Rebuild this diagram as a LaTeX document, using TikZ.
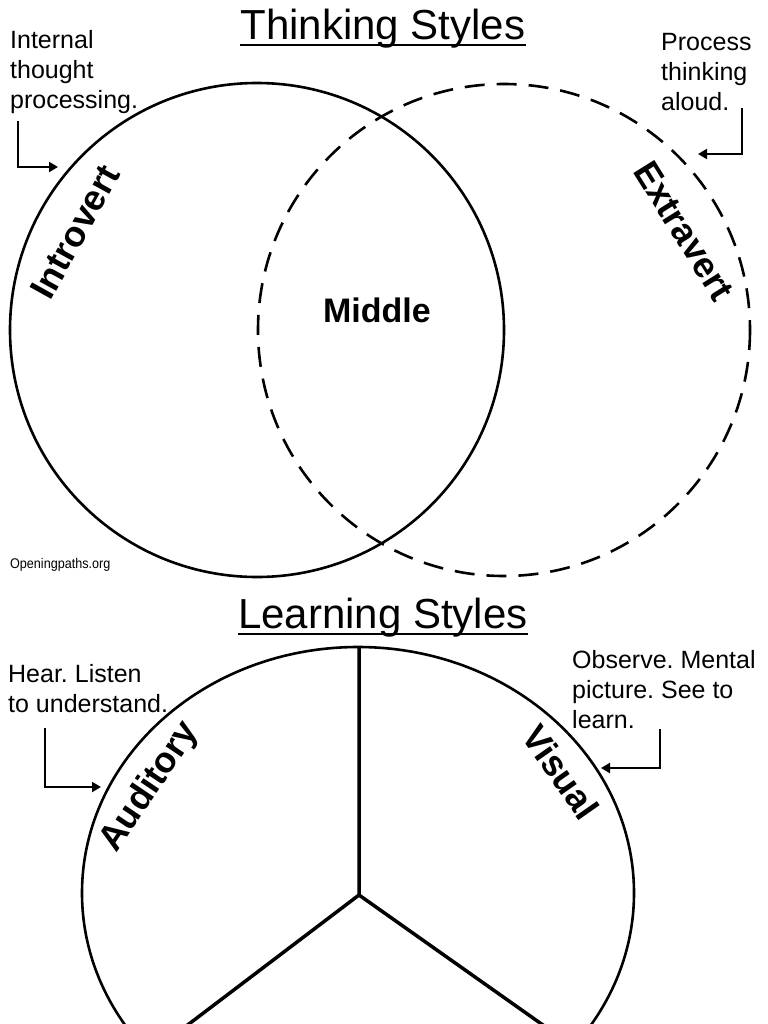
\documentclass[tikz,border=0pt]{standalone}
\usepackage{fontspec}
\setmainfont{Liberation Sans}
\usetikzlibrary{arrows.meta}
\frenchspacing
\begin{document}
\begin{tikzpicture}[x=1bp,y=-1bp,
  note/.style={inner sep=0pt, align=left, anchor=base west, font=\frenchspacing\fontsize{25bp}{30bp}\selectfont},
  titletext/.style={inner sep=0pt, anchor=base, font=\fontsize{42bp}{48bp}\selectfont},
  bigbold/.style={inner sep=0pt, font=\fontsize{36bp}{40bp}\selectfont\bfseries},
  pointer/.style={line width=2bp, -{Triangle[length=9bp,width=10bp]}},
  solidring/.style={line width=2.6bp},
  dashring/.style={line width=2.6bp, dash pattern=on 20bp off 12bp},
  spoke/.style={line width=3.5bp},
  underl/.style={line width=2bp},
]
\useasboundingbox[fill=white] (0,0) rectangle (768,1024);

% ---------- Thinking styles ----------
\node[titletext] (t1) at (383,39) {Thinking Styles};
\draw[underl] ([yshift=-6bp]t1.base west) -- ([yshift=-6bp]t1.base east);

\draw[solidring] (257,330) circle (247);
\draw[dashring] (504,330) circle (246);

\node[note] (n1) at (10,108) {Internal\\thought\\processing.};
\node[note] (n2) at (661,110) {Process\\thinking\\aloud.};

\coordinate (p1a) at (18,121); \coordinate (p1b) at (58,167);
\draw[pointer] (p1a) |- (p1b);
\coordinate (p2a) at (742,108); \coordinate (p2b) at (698,154);
\draw[pointer] (p2a) |- (p2b);

\node[bigbold, rotate=61] (intro) at (75,232) {Introvert};
\node[bigbold, rotate=-58] (extra) at (684,231) {Extravert};
\node[inner sep=0pt, anchor=base, font=\fontsize{34bp}{40bp}\selectfont\bfseries] (mid) at (377,322) {Middle};
\node[inner sep=0pt, anchor=base west, font=\fontsize{14bp}{16bp}\selectfont, xscale=0.9] (web) at (10,568) {Openingpaths.org};

% ---------- Learning styles ----------
\node[titletext] (t2) at (383,628) {Learning Styles};
\draw[underl] ([yshift=-6bp]t2.base west) -- ([yshift=-6bp]t2.base east);

\begin{scope}
\clip (0,0) rectangle (768,1024);
\draw[solidring] (358,893) ellipse [x radius=276, y radius=246];
\coordinate (J) at (359,895);
\coordinate (Jtop) at (359,647);
\coordinate (Jl) at (181,1030);
\coordinate (Jr) at (550,1030);
\draw[spoke] (Jtop) -- (J) -- (Jl);
\draw[spoke] (J) -- (Jr);
\end{scope}

\node[note] (n3) at (8,712) {Hear. Listen\\to understand.};
\node[note] (n4) at (572,728) {Observe. Mental\\picture. See to\\learn.};

\coordinate (p3a) at (45,728); \coordinate (p3b) at (101,787);
\draw[pointer] (p3a) |- (p3b);
\coordinate (p4a) at (660,729); \coordinate (p4b) at (601,768);
\draw[pointer] (p4a) |- (p4b);

\node[bigbold, rotate=56] (aud) at (150,787) {Auditory};
\node[bigbold, rotate=-55] (vis) at (561,772) {Visual};
\end{tikzpicture}
\end{document}
